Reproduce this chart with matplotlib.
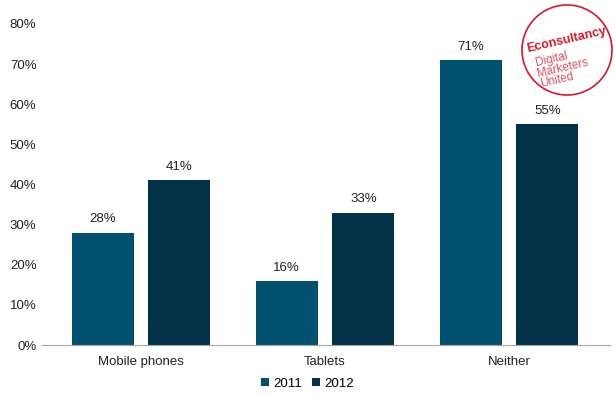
import numpy as np
import matplotlib.pyplot as plt
from matplotlib.patches import Circle

plt.rcParams['font.family'] = ['Liberation Sans', 'DejaVu Sans']

categories = ['Mobile phones', 'Tablets', 'Neither']
years = ['2011', '2012']
values_2011 = [28, 16, 71]
values_2012 = [41, 33, 55]
colors = ['#02506F', '#043249']

fig = plt.figure(figsize=(6.15, 3.97), dpi=100)
ax = fig.add_axes([42/615, 52/397, 568/615, 321/397])

x = np.arange(len(categories))
w = 0.337
gap = 0.08
b1 = ax.bar(x - (w + gap) / 2, values_2011, w, color=colors[0], label=years[0])
b2 = ax.bar(x + (w + gap) / 2, values_2012, w, color=colors[1], label=years[1])

for bars, vals in [(b1, values_2011), (b2, values_2012)]:
    for b, v in zip(bars, vals):
        ax.text(b.get_x() + b.get_width() / 2, v + 1.8, '%d%%' % v,
                ha='center', va='bottom', fontsize=9.5, color='#222222')

ax.set_xlim(-0.538, 2.549)
ax.set_ylim(0, 80)
ax.set_yticks(range(0, 81, 10))
ax.set_yticklabels(['%d%%' % t for t in range(0, 81, 10)])
ax.set_xticks(x)
ax.set_xticklabels(categories)
ax.tick_params(axis='both', length=0, labelsize=9.5, colors='#222222')
ax.tick_params(axis='y', pad=4)
ax.tick_params(axis='x', pad=8)
for s in ['top', 'right', 'left']:
    ax.spines[s].set_visible(False)
ax.spines['bottom'].set_color('#A6A6A6')

fig.legend(handles=[b1, b2], labels=years, loc='center', bbox_to_anchor=(0.5, 0.033),
           ncol=2, frameon=False, fontsize=9.5, handlelength=0.6, handleheight=0.6,
           handletextpad=0.3, columnspacing=0.8)

# logo
logo_ax = fig.add_axes([0, 0, 1, 1], facecolor='none')
logo_ax.set_xlim(0, 615)
logo_ax.set_ylim(397, 0)
logo_ax.axis('off')
logo_ax.set_aspect('equal')
logo_ax.add_patch(Circle((567, 50), 45, fill=False, edgecolor='#D7182A', lw=1.2))
logo_ax.text(566, 40, 'Econsultancy', color='#D7182A', fontsize=9, fontweight='bold',
             ha='center', va='center', rotation=13)
logo_ax.text(534, 68, 'Digital\nMarketers\nUnited', color='#E0505F', fontsize=8.5,
             ha='left', va='center', linespacing=0.85, rotation=13)

fig.savefig('out.png', dpi=100)
